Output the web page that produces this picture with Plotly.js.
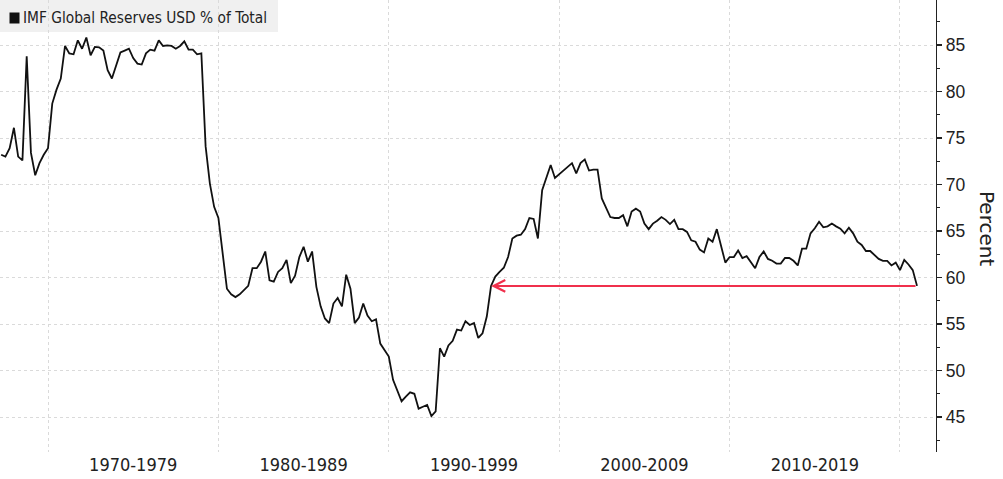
<!DOCTYPE html>
<html>
<head>
<meta charset="utf-8">
<script src="https://cdn.plot.ly/plotly-3.0.1.min.js"></script>
<style>
html,body{margin:0;padding:0;background:#ffffff;}
#chart{width:1003px;height:479px;}
</style>
</head>
<body>
<div id="chart"></div>
<script>
// ---- data (quarterly, first quarter-end 1967.25) ----
const startYear = 1967.25;
const quarterStep = 0.25;
const seriesName = 'IMF Global Reserves USD % of Total';
const usdShare = [
  73.2,73.0,73.9,76.1,73.0,72.6,83.8,73.4,71.0,72.3,73.2,73.9,78.7,80.2,81.4,84.9,
  84.1,84.0,85.5,84.6,85.8,83.9,84.8,84.75,84.4,82.3,81.4,82.85,84.2,84.4,84.6,83.6,
  83.0,82.9,84.1,84.5,84.4,85.5,84.9,84.97,84.9,84.6,84.9,85.4,84.5,84.5,84.0,84.1,
  74.1,70.1,67.6,66.4,62.6,58.8,58.2,57.9,58.2,58.7,59.1,61.0,61.0,61.7,62.8,59.7,
  59.55,60.6,61.0,61.9,59.4,60.2,62.2,63.3,61.7,62.8,59.0,56.9,55.6,55.1,57.2,57.8,
  56.9,60.3,58.8,55.1,55.7,57.2,55.9,55.3,55.5,52.9,52.2,51.5,49.0,47.8,46.7,47.2,
  47.65,47.5,45.9,46.1,46.3,45.1,45.6,52.4,51.5,52.7,53.2,54.4,54.3,55.3,54.9,55.1,
  53.5,54.0,55.8,59.1,60.1,60.6,61.05,62.2,64.2,64.5,64.6,65.2,66.4,66.3,64.2,69.4,
  70.8,72.1,70.7,71.1,71.6,72.0,72.3,71.2,72.3,72.7,71.5,71.6,71.6,68.5,67.4,66.5,
  66.4,66.4,66.7,65.5,67.1,67.4,67.1,65.8,65.2,65.8,66.1,66.5,66.2,65.75,66.2,65.2,
  65.2,64.9,64.0,63.85,63.0,62.7,64.2,63.85,65.2,63.4,61.6,62.2,62.2,62.9,62.1,62.3,
  61.6,61.0,62.2,62.8,62.0,61.8,61.5,61.5,62.1,62.1,61.8,61.3,63.1,63.1,64.75,65.3,
  66.0,65.4,65.5,65.8,65.5,65.25,64.75,65.35,64.75,63.85,63.5,62.85,62.85,62.4,62.0,61.8,
  61.8,61.3,61.6,60.8,61.9,61.4,60.8,59.1
];
const decadeLabels = ['1970-1979','1980-1989','1990-1999','2000-2009','2010-2019'];
const decadeCenters = [1975,1985,1995,2005,2015];
const decadeBounds = [1970,1980,1990,2000,2010,2020];
const yAxisTitle = 'Percent';
const arrowTipYear = 1996.0;

// ---- build ----
const years = usdShare.map((_, i) => startYear + i * quarterStep);
const lastYear = years[years.length - 1];
const lastValue = usdShare[usdShare.length - 1];

const COND = '"DejaVu Sans Condensed","DejaVu Sans",sans-serif';
const REG = '"Liberation Sans",Arial,sans-serif';
const DV = '"DejaVu Sans",sans-serif';

const PW = 936, PH = 452; // plot area pixel size

const trace = {
  type: 'scatter', mode: 'lines', x: years, y: usdShare, name: seriesName,
  line: {color: '#111111', width: 1.8}, hoverinfo: 'skip'
};

const layout = {
  width: 1003, height: 479,
  margin: {l: 0, r: 67, t: 0, b: 27, pad: 0},
  paper_bgcolor: '#ffffff', plot_bgcolor: '#ffffff',
  showlegend: false,
  font: {family: REG, color: '#1a1a1a'},
  xaxis: {
    range: [1967.183, 2022.113],
    tickmode: 'array', tickvals: decadeCenters, ticktext: decadeLabels,
    ticks: '', showgrid: false, zeroline: false, showline: false,
    tickfont: {family: COND, size: 18, color: '#222222'},
    minor: {tickmode: 'array', tickvals: decadeBounds, showgrid: true,
            gridcolor: '#dadada', griddash: 'dot', gridwidth: 1, ticks: ''},
    fixedrange: true
  },
  yaxis: {
    side: 'right', range: [41.24, 89.84],
    tickmode: 'linear', tick0: 45, dtick: 5,
    showgrid: true, gridcolor: '#dadada', griddash: 'dot', gridwidth: 1,
    zeroline: false, showline: true, linecolor: '#222222', linewidth: 1.3,
    ticks: 'outside', ticklen: 5, tickwidth: 1.3, tickcolor: '#222222',
    tickfont: {family: REG, size: 17.5, color: '#222222'},
    minor: {tickmode: 'linear', tick0: 42.5, dtick: 5, ticks: 'outside', ticklen: 3,
            tickwidth: 1, tickcolor: '#222222', showgrid: false},
    fixedrange: true
  },
  shapes: [
    {type: 'rect', xref: 'paper', yref: 'paper', x0: 0, x1: 278 / PW, y0: 1 - 32 / PH, y1: 1,
     fillcolor: '#f0f0f0', line: {width: 0}, layer: 'below'},
    {type: 'rect', xref: 'paper', yref: 'paper', x0: 9.5 / PW, x1: 19.5 / PW,
     y0: 1 - 23.5 / PH, y1: 1 - 12.5 / PH, fillcolor: '#111111', line: {width: 0}, layer: 'above'}
  ],
  annotations: [
    {xref: 'paper', yref: 'paper', x: 21 / PW, y: 1 - 18.5 / PH, xanchor: 'left', yanchor: 'middle',
     text: seriesName, showarrow: false, font: {family: COND, size: 15.3, color: '#222222'}},
    {xref: 'paper', yref: 'paper', x: 1, y: 1 - 228 / PH, xanchor: 'center', yanchor: 'middle',
     xshift: 51, text: yAxisTitle, textangle: 90, showarrow: false,
     font: {family: DV, size: 20, color: '#222222'}},
    {xref: 'x', yref: 'y', x: arrowTipYear, y: lastValue, axref: 'x', ayref: 'y',
     ax: lastYear, ay: lastValue, text: '', showarrow: true, arrowhead: 5, arrowsize: 1.15,
     arrowwidth: 2, arrowcolor: '#f0304c', standoff: 0}
  ]
};

Plotly.newPlot('chart', [trace], layout, {staticPlot: true, displayModeBar: false});
</script>
</body>
</html>
